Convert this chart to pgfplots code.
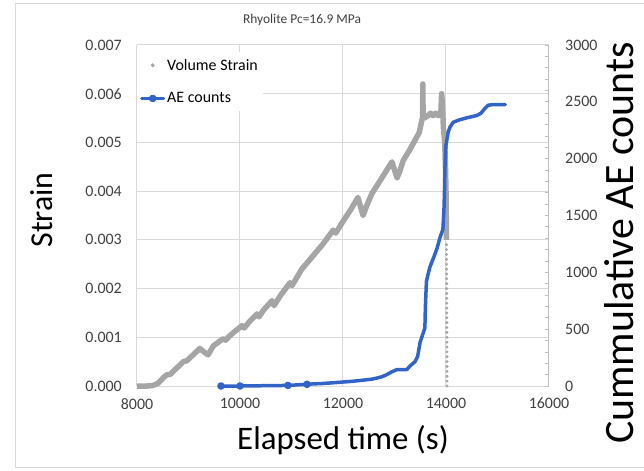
\documentclass[border=0pt]{standalone}
\usepackage{pgfplots}
\pgfplotsset{compat=1.18}
\usepackage{fontspec}
\setmainfont{Carlito}
\definecolor{strainGray}{RGB}{165,165,165}
\definecolor{aeBlue}{RGB}{50,100,200}
\definecolor{gridGray}{RGB}{217,217,217}
\definecolor{axGray}{RGB}{191,191,191}
\definecolor{txtGray}{RGB}{64,64,64}

\pgfplotstableread{
t s
8000 0
8100 0
8200 0
8310 0.00001
8400 0.00005
8450 0.0001
8520 0.00018
8580 0.00023
8650 0.00024
8700 0.0003
8835 0.00043
8900 0.0005
8970 0.00052
9100 0.00065
9220 0.00077
9300 0.0007
9380 0.00064
9480 0.00082
9580 0.0009
9670 0.00097
9720 0.00094
9800 0.00103
9900 0.00112
10040 0.00124
10080 0.00119
10200 0.00134
10330 0.00148
10370 0.00142
10450 0.00155
10620 0.00175
10660 0.00165
10800 0.00188
10970 0.00212
11010 0.00206
11200 0.0024
11400 0.00265
11600 0.0029
11810 0.0032
11860 0.00314
12000 0.00338
12150 0.00362
12290 0.00387
12390 0.0035
12460 0.0037
12560 0.00395
12700 0.00418
12830 0.0044
12950 0.0046
13050 0.00427
13100 0.0044
13170 0.00463
13280 0.00482
13400 0.00505
13480 0.0052
13530 0.00545
13545 0.0055
13550 0.0062
13555 0.0056
13580 0.0055
13650 0.00555
13700 0.0056
13750 0.00555
13800 0.0056
13850 0.00555
13900 0.0056
13915 0.0060
13930 0.0058
13950 0.0053
13975 0.0050
13990 0.0045
14000 0.0040
14005 0.0035
14010 0.0030
}\strain

\pgfplotstableread{
t s
14010 0.0029
14010 0.0028
14011 0.0027
14011 0.0026
14012 0.0025
14012 0.0024
14013 0.0023
14013 0.0022
14014 0.0021
14014 0.0020
14015 0.0019
14015 0.0018
14015 0.0017
14016 0.0016
14016 0.0015
14016 0.0014
14017 0.0013
14017 0.0012
14017 0.0011
14018 0.0010
14018 0.0009
14018 0.0008
14019 0.0007
14019 0.0006
14019 0.0005
14020 0.0004
14020 0.0003
14020 0.0002
14020 0.0001
14020 0.0000
}\straindrop

\pgfplotstableread{
t c
9630 0
10000 0
10930 5
11300 15
11400 18
11600 22
11800 28
12000 35
12200 42
12400 52
12560 60
12660 70
12760 82
12850 100
12950 125
13050 145
13150 145
13240 145
13300 175
13400 215
13450 260
13495 380
13530 430
13560 470
13590 510
13600 700
13620 920
13650 980
13690 1050
13760 1130
13825 1210
13880 1300
13940 1380
13960 1550
13970 1700
13980 1925
13990 2050
14000 2120
14040 2230
14080 2280
14140 2320
14250 2340
14410 2360
14600 2380
14680 2400
14750 2440
14820 2470
14900 2475
14990 2475
15150 2475
}\ae

\begin{document}
\begin{tikzpicture}
\useasboundingbox (-137bp,-85bp) rectangle (507bp,386bp);
\draw[gridGray, line width=1bp] (507bp,382bp) -- (-121bp,382bp) -- (-121bp,-81bp) -- (507bp,-81bp);
\begin{axis}[
  scale only axis, width=412bp, height=341bp, at={(0,0)}, anchor=south west,
  xmin=8000, xmax=16000, ymin=0, ymax=0.007,
  xtick={8000,10000,...,16000}, ytick={0,0.001,...,0.0071},
  axis x line*=bottom, axis y line*=left,
  axis line style={gridGray, line width=1bp},
  major tick length=0pt,
  grid=major, grid style={gridGray, line width=1bp},
  /pgf/number format/assume math mode=true,
  scaled y ticks=false, scaled x ticks=false,
  xticklabel style={font=\fontsize{16}{16}\selectfont, text=txtGray, anchor=north, inner sep=0pt, yshift=-12bp, /pgf/number format/set thousands separator={}},
  yticklabel style={font=\fontsize{16}{16}\selectfont, text=txtGray, anchor=east, inner sep=0pt, xshift=-15bp, /pgf/number format/fixed, /pgf/number format/fixed zerofill, /pgf/number format/precision=3},
  xlabel={Elapsed time (s)},
  every axis x label/.style={font=\fontsize{33}{33}\selectfont, at={(206bp,-54bp)}, anchor=center},
  ylabel={Strain},
  every axis y label/.style={font=\fontsize{32}{32}\selectfont, at={(-84bp,176bp)}, rotate=90, anchor=base},
  clip=false,
]
\addplot[strainGray, line width=5.5bp, line join=round] table[x=t,y=s] {\strain};
\addplot[strainGray, only marks, mark=*, mark size=1.3bp] table[x=t,y=s] {\straindrop};
\end{axis}
\begin{axis}[
  scale only axis, width=412bp, height=341bp, at={(0,0)}, anchor=south west,
  xmin=8000, xmax=16000, ymin=0, ymax=3000,
  axis x line=none, axis y line*=right,
  axis line style={axGray, line width=1bp},
  ytick={0,500,...,3000}, minor y tick num=4,
  tick style={axGray, line width=0.8bp}, major tick length=4bp, minor tick length=4bp,
  /pgf/number format/assume math mode=true,
  yticklabel style={font=\fontsize{16}{16}\selectfont, text=txtGray, anchor=west, inner sep=0pt, xshift=16bp, /pgf/number format/set thousands separator={}},
  ylabel={Cummulative AE counts},
  every axis y label/.style={font=\fontsize{42}{42}\selectfont, at={(496bp,143bp)}, rotate=90, anchor=base, inner sep=0pt},
  legend style={font=\fontsize{16}{19}\selectfont, draw=none, fill=white, at={(axis description cs:0,0.98)}, anchor=north west, row sep=17bp, inner xsep=3bp, inner ysep=5bp, text=black},
  legend cell align=left,
  title={Rhyolite Pc=16.9 MPa},
  title style={font=\fontsize{13.5}{13.5}\selectfont, text=txtGray, at={(165bp,360bp)}, anchor=center},
  clip=false,
]
\addlegendimage{legend image code/.code={\fill[strainGray] (11bp,0bp) circle (1.8bp);}}
\addlegendentry{Volume Strain}
\addplot[aeBlue, line width=3.5bp, line cap=round, line join=round, mark=*, mark size=2bp, mark indices={1,2,3,4},
  legend image code/.code={\draw[aeBlue, line width=3bp] (0bp,0bp) -- (22bp,0bp); \fill[aeBlue] (11bp,0bp) circle (2bp);}] table[x=t,y=c] {\ae};
\addlegendentry{AE counts}
\end{axis}
\end{tikzpicture}
\end{document}
